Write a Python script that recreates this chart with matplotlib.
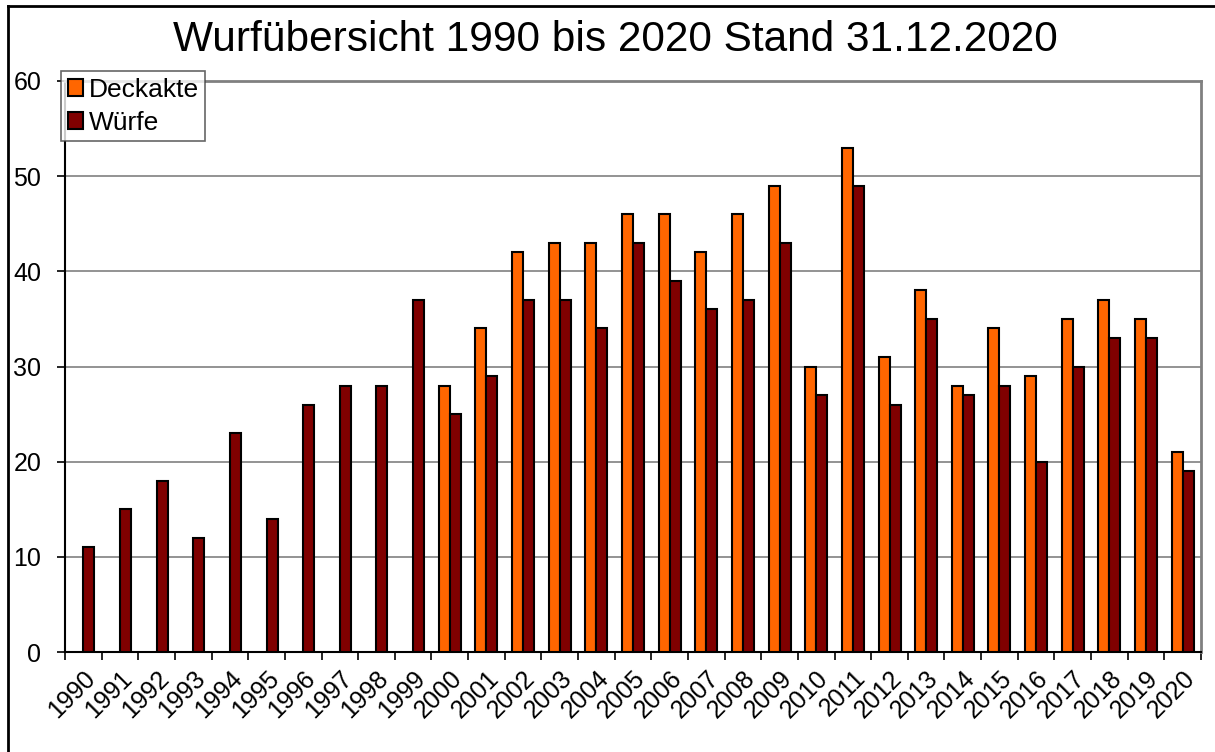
import numpy as np
import matplotlib.pyplot as plt
from matplotlib.lines import Line2D

plt.rcParams['font.family'] = ['Liberation Sans', 'DejaVu Sans']

# DATA
years = [str(y) for y in range(1990, 2021)]
deckakte = [0, 0, 0, 0, 0, 0, 0, 0, 0, 0,
            28, 34, 42, 43, 43, 46, 46, 42, 46, 49,
            30, 53, 31, 38, 28, 34, 29, 35, 37, 35, 21]
wuerfe = [11, 15, 18, 12, 23, 14, 26, 28, 28, 37,
          25, 29, 37, 37, 34, 43, 39, 36, 37, 43,
          27, 49, 26, 35, 27, 28, 20, 30, 33, 33, 19]

col_deck = '#FF6600'
col_wurf = '#800000'

# PLOT
fig = plt.figure(figsize=(12.15, 7.52), dpi=100)
ax = fig.add_axes([65/1215, 1-652/752, (1201-65)/1215, (652-81)/752])

x = np.arange(len(years))
w = 0.3
deck_plot = [v if v > 0 else np.nan for v in deckakte]
ax.bar(x - w/2, deck_plot, w, color=col_deck, edgecolor='black', linewidth=1.5,
       label='Deckakte', zorder=3)
ax.bar(x + w/2, wuerfe, w, color=col_wurf, edgecolor='black', linewidth=1.5,
       label='Würfe', zorder=3)

ax.set_xlim(-0.5, len(years) - 0.5)
ax.set_ylim(0, 60)
ax.set_yticks(range(0, 61, 10))
ax.yaxis.grid(True, color='#808080', linewidth=1.2, zorder=0)

ax.set_xticks(x)
ax.set_xticklabels(years, rotation=45, ha='right', va='top',
                   rotation_mode='anchor', fontsize=18)
ax.tick_params(axis='x', length=0, pad=10)
ax.set_xticks(np.arange(-0.5, len(years)), minor=True)
ax.tick_params(axis='x', which='minor', length=6, width=1.2, direction='out')
ax.tick_params(axis='y', labelsize=18, length=6, width=1.2, direction='out', pad=11)

for s in ['left', 'bottom']:
    ax.spines[s].set_color('black')
    ax.spines[s].set_linewidth(1.5)
for s in ['top', 'right']:
    ax.spines[s].set_color('#808080')
    ax.spines[s].set_linewidth(2)

fig.text(615/1215, 1-40/752, 'Wurfübersicht 1990 bis 2020 Stand 31.12.2020',
         ha='center', va='center', fontsize=30.5)

leg = ax.legend(loc='upper left', bbox_to_anchor=(61/1215, 1-71/752),
                bbox_transform=fig.transFigure, fontsize=19, frameon=True,
                fancybox=False, borderpad=0.25, handlelength=0.6,
                handleheight=0.6, handletextpad=0.2, labelspacing=0.35,
                borderaxespad=0)
leg.get_frame().set_edgecolor('#404040')
leg.get_frame().set_linewidth(1.2)
leg.set_zorder(5)

# outer chart frame (top and left edges visible)
fig.add_artist(Line2D([8/1215, 1], [1-6/752, 1-6/752], transform=fig.transFigure,
                      color='black', linewidth=2))
fig.add_artist(Line2D([8/1215, 8/1215], [0, 1-6/752], transform=fig.transFigure,
                      color='black', linewidth=2))

fig.savefig('out.png', dpi=100)
